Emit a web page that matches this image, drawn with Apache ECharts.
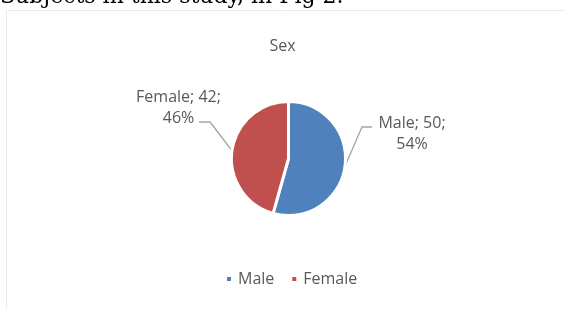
<!DOCTYPE html>
<html>
<head>
<meta charset="utf-8">
<script src="https://cdn.jsdelivr.net/npm/echarts@6/dist/echarts.min.js"></script>
<style>
  html, body { margin: 0; padding: 0; background: #fff; }
  #main { width: 565px; height: 309px; }
</style>
</head>
<body>
<div id="main"></div>
<script>
  // 数据
  var categories = ['Male', 'Female'];
  var counts = [50, 42];
  var colors = ['#4F81BD', '#C0504D'];

  // 标签位置（中心点）和引导线拐点
  var labelPos = [[412, 134], [178.5, 107.5]];
  var elbows = [[[362, 127], [372, 127]], [[210, 122], [199, 122]]];

  var chart = echarts.init(document.getElementById('main'));

  var pieData = categories.map(function (name, i) {
    return { name: name, value: counts[i], itemStyle: { color: colors[i] } };
  });

  var option = {
    backgroundColor: '#fff',
    animation: false,
    textStyle: { fontFamily: 'Open Sans' },
    title: {
      text: 'Sex',
      left: 'center',
      top: 33,
      textStyle: { color: '#595959', fontSize: 16, fontWeight: 'normal', fontFamily: 'Open Sans' }
    },
    legend: {
      data: categories,
      left: 220,
      top: 266,
      icon: 'path://M0,0h6v6h-6z',
      itemWidth: 8,
      itemHeight: 6,
      itemGap: 16,
      textStyle: { color: '#595959', fontSize: 16, fontFamily: 'Open Sans' }
    },
    graphic: [
      {
        type: 'rect',
        z: -10,
        shape: { x: 6.5, y: 10.5, width: 620, height: 400 },
        style: { fill: 'none', stroke: '#ebebe0', lineWidth: 1 }
      },
      {
        type: 'text',
        left: 0,
        top: -14,
        style: {
          text: 'Subjects in this study, in Fig 2.',
          font: '22px "DejaVu Serif"',
          fill: '#000'
        }
      }
    ],
    series: [
      {
        type: 'pie',
        center: [288.5, 158.5],
        radius: 57,
        startAngle: 90,
        clockwise: true,
        percentPrecision: 0,
        data: pieData,
        itemStyle: { borderColor: '#fff', borderWidth: 3 },
        label: {
          show: true,
          formatter: '{b}; {c};\n{d}%',
          color: '#595959',
          fontSize: 16,
          lineHeight: 21,
          align: 'center',
          fontFamily: 'Open Sans'
        },
        labelLine: {
          show: true,
          lineStyle: { color: '#a6a6a6', width: 1.3 }
        },
        labelLayout: function (params) {
          var i = params.dataIndex;
          var start = params.labelLinePoints[0];
          return {
            x: labelPos[i][0],
            y: labelPos[i][1],
            align: 'center',
            verticalAlign: 'middle',
            labelLinePoints: [start, elbows[i][0], elbows[i][1]]
          };
        },
        emphasis: { disabled: true }
      }
    ]
  };

  chart.setOption(option);

  window.addEventListener('resize', function () {
    chart.resize();
  });
</script>
</body>
</html>
